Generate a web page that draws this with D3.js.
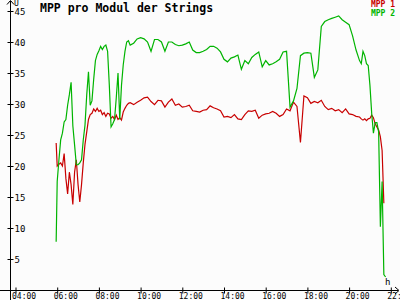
<!DOCTYPE html>
<html><head><meta charset="utf-8">
<script src="https://cdn.jsdelivr.net/npm/d3@7"></script>
<style>html,body{margin:0;padding:0;background:#fcfcfc;} svg{display:block;}</style>
</head><body><svg id="c" width="400" height="300"></svg>
<script>
const times = [
"05:57","06:00","06:05","06:10","06:15","06:20","06:25","06:30","06:35","06:40","06:45","06:50","06:55",
"07:00","07:05","07:10","07:15","07:20","07:25","07:30","07:35","07:40","07:45","07:50","07:55",
"08:00","08:05","08:10","08:15","08:20","08:25","08:30","08:35","08:40","08:45","08:50","08:55",
"09:00","09:05","09:10","09:15","09:20","09:25","09:30",
"09:40","09:50","10:00","10:10","10:20","10:30","10:40","10:50","11:00","11:10","11:20","11:30","11:40","11:50",
"12:00","12:10","12:20","12:30","12:40","12:50","13:00","13:10","13:20","13:30","13:40","13:50",
"14:00","14:10","14:20","14:30","14:40","14:50","15:00","15:10","15:20","15:30","15:40","15:50",
"16:00","16:10","16:20","16:30","16:40","16:50","17:00","17:10","17:20","17:30","17:40","17:50",
"18:00","18:10","18:20","18:30","18:40","18:50","19:00","19:10","19:20","19:30","19:40","19:50",
"20:00","20:10","20:20","20:30",
"20:35","20:40","20:45","20:50","20:55","21:00","21:05","21:10","21:15","21:20","21:25","21:30","21:35","21:40","21:45"
];
const mpp1 = [
23.7,20,20.3,20.5,20,22,18,15.5,19,17,13.8,19,21,
17,14.2,17,20.5,23.5,25.5,27.5,28.3,28.5,29.2,28.8,29.3,
28.8,29,28.3,28.6,28,28.5,28.4,27.7,28,27.5,28.2,27.5,
27.8,27.4,28.7,29.3,29.8,30.1,30.2,
29.9,30.3,30.6,31,31.1,30.4,29.9,30.6,30.5,29.5,30.3,30.8,29.8,30,
29.5,29.6,29.8,28.9,28.8,28.7,29,29.1,29.7,29.4,29.2,28.9,
27.9,28,27.8,28.3,27.6,27.5,28.3,28.9,28.8,29,27.7,28.2,
28.4,28.5,28.8,28.5,28,28.3,29.2,28.9,30.3,29.6,23.8,31.3,
31,30.1,30.4,30.2,30.6,29.6,29.1,29.3,28.9,29.1,28.6,29.2,
28.4,28.3,28,27.9,
27.6,27.4,27.6,27.3,27.6,27.7,28.2,27.8,26.8,26.3,25.8,24.7,22.5,14,null
];
const mpp2 = [
7.8,17.5,21,24.2,25.3,27.1,27.5,29.8,31.5,33.5,26.5,23.4,20.2,
20.2,20.5,21,24.2,26.6,31.5,35.2,29.8,30.5,34,37,38,
38.6,39.3,38.8,39.3,39.5,38.5,33,26.3,26.8,27.5,31,35,
27.5,33,36.3,38.5,40,40.2,39.5,
39.8,40.5,40.7,40.5,40,38.5,40.4,40.4,40,38.5,40,40,39.6,39.4,
39.5,39.7,40,38.7,38.3,38.3,38.5,38.8,39.3,39.3,39,38.4,
37.2,36.8,37.4,37.6,37.9,35.6,37,36.5,37.5,38,38.4,36,
37,36.3,36.5,36.8,37.2,38.4,38.5,29.5,30.5,32.5,37.8,38.2,
38.3,38.2,34.3,35.5,42.5,43.3,43.6,43.8,44,44.2,43.6,43.2,
42.8,41,38.7,37,
36.5,38.5,37.8,36.5,36.2,33,28.5,25.3,27,27,25.5,10.2,17.5,2.5,2.1
];
const xTickLabels = ["04:00","06:00","08:00","10:00","12:00","14:00","16:00","18:00","20:00","22:00"];
const yTickValues = [5,10,15,20,25,30,35,40,45];
const seriesNames = ["MPP 1","MPP 2"];
const seriesColors = ["#c80000","#00b400"];
const titleText = "MPP pro Modul der Strings";

const toH = s => { const p = s.split(":").map(Number); return p[0] + p[1]/60; };
const svg = d3.select("#c");
const font = "'DejaVu Sans Mono', monospace";
const x = d3.scaleLinear().domain([4,22]).range([15.5,390.8]);
const y = d3.scaleLinear().domain([0,45]).range([290,11]);

// axes lines
svg.append("line").attr("x1",0).attr("x2",398).attr("y1",290.5).attr("y2",290.5).attr("stroke","#000");
svg.append("line").attr("x1",10.5).attr("x2",10.5).attr("y1",1).attr("y2",300).attr("stroke","#000");
svg.append("path").attr("d","M7,4.5 L10.5,0.5 L14,4.5").attr("fill","none").attr("stroke","#000");
svg.append("path").attr("d","M395,287 L399,290.5 L395,294").attr("fill","none").attr("stroke","#000");
svg.append("text").attr("x",14).attr("y",6).attr("font-family",font).attr("font-size",8).text("U");
svg.append("text").attr("x",385).attr("y",285).attr("font-family",font).attr("font-size",9).text("h");

const xa = svg.append("g").attr("transform","translate(0,290.5)")
  .call(d3.axisBottom(x).tickValues(xTickLabels.map(toH)).tickFormat((d,i)=>xTickLabels[i]).tickSize(3));
xa.select(".domain").remove();
xa.selectAll(".tick line").attr("y1",-3).attr("y2",3).attr("stroke","#000");
xa.selectAll(".tick text").attr("text-anchor","start").attr("x",-4).attr("y",3).attr("dy","0.71em")
  .attr("font-family",font).attr("font-size",8).attr("fill","#000");

const ya = svg.append("g").attr("transform","translate(10.5,0)")
  .call(d3.axisLeft(y).tickValues(yTickValues).tickSize(3));
ya.select(".domain").remove();
ya.selectAll(".tick line").attr("x1",-3).attr("x2",3).attr("stroke","#000");
ya.selectAll(".tick text").attr("text-anchor","start").attr("x",4).attr("dy","0.35em")
  .attr("font-family",font).attr("font-size",9).attr("fill","#000");

const line = d3.line().defined(d=>d[1]!=null).x(d=>x(toH(d[0]))).y(d=>y(d[1]));
[mpp1, mpp2].forEach((vals,i)=>{
  const pts = times.map((t,j)=>[t, vals[j]]);
  svg.append("path").datum(pts).attr("d",line).attr("fill","none")
    .attr("stroke",seriesColors[i]).attr("stroke-width",1.2).attr("stroke-linejoin","miter");
});

svg.append("text").attr("x",40).attr("y",12).attr("font-family",font).attr("font-weight","bold")
  .attr("font-size",11.5).attr("fill","#000").text(titleText);

seriesNames.forEach((n,i)=>{
  svg.append("text").attr("x",395).attr("y",7+i*8.5).attr("text-anchor","end").attr("font-family",font)
    .attr("font-size",8).attr("font-weight","bold").attr("fill",seriesColors[i]).text(n);
});
</script></body></html>
